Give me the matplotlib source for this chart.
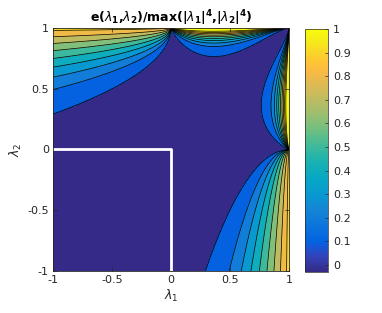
import numpy as np
import matplotlib
matplotlib.use('Agg')
import matplotlib.pyplot as plt
from matplotlib.colors import LinearSegmentedColormap, Normalize
from matplotlib.cm import ScalarMappable

plt.rcParams['font.family'] = 'DejaVu Sans'
plt.rcParams['mathtext.fontset'] = 'dejavusans'

# parula (MATLAB) anchor colours, position in [0,1]
PARULA = [
    (0.000, (0.2081, 0.1663, 0.5292)),
    (0.063, (0.1959, 0.2645, 0.7279)),
    (0.111, (0.0591, 0.3598, 0.8683)),
    (0.127, (0.0117, 0.3875, 0.8820)),
    (0.190, (0.0498, 0.4586, 0.8641)),
    (0.254, (0.0793, 0.5200, 0.8312)),
    (0.317, (0.0343, 0.5966, 0.8199)),
    (0.381, (0.0228, 0.6535, 0.7768)),
    (0.444, (0.0843, 0.6928, 0.7062)),
    (0.508, (0.2178, 0.7250, 0.6193)),
    (0.571, (0.3953, 0.7459, 0.5244)),
    (0.635, (0.5709, 0.7485, 0.4494)),
    (0.698, (0.7184, 0.7411, 0.3905)),
    (0.762, (0.8507, 0.7299, 0.3360)),
    (0.825, (0.9739, 0.7314, 0.2666)),
    (0.857, (0.9990, 0.7653, 0.2164)),
    (0.889, (0.9880, 0.8066, 0.1794)),
    (0.952, (0.9598, 0.9218, 0.0948)),
    (1.000, (0.9763, 0.9831, 0.0538)),
]
parula = LinearSegmentedColormap.from_list('parula', PARULA)

# colour range and contour levels
zmin, zmax = -0.03, 1.0
levels = [-0.03, 0.0, 0.1, 0.2, 0.3, 0.4, 0.5, 0.6, 0.7, 0.8, 0.9, 1.0]
line_levels = [0.0, 0.1, 0.2, 0.3, 0.4, 0.5, 0.6, 0.7, 0.8, 0.9]
ticks = [-1, -0.5, 0, 0.5, 1]
tick_labels = ['-1', '-0.5', '0', '0.5', '1']
cbar_ticks = [0, 0.1, 0.2, 0.3, 0.4, 0.5, 0.6, 0.7, 0.8, 0.9, 1.0]
cbar_labels = ['0', '0.1', '0.2', '0.3', '0.4', '0.5', '0.6', '0.7', '0.8', '0.9', '1']

# shape of the lobes (fan from (0,1) into lambda1<0) and lenses (0<lambda1<1)
lobe_width = 0.71
lobe_amp, lobe_pow = 0.84, 1.7
lens_amp, lens_pow = 1.2, 2.4
lens_a, lens_b, lens_c = 0.8, 1.4, 1.0


def lobe(x, y):
    with np.errstate(divide='ignore', invalid='ignore'):
        w = (1 - y) / (lobe_width * np.sqrt(np.clip(-x, 1e-12, None)))
    val = lobe_amp * np.clip(1 - w, 0, None) ** lobe_pow
    return np.where((x < 0) & (w < 1), val, zmin)


def lens(x, y):
    d = lens_c * np.clip(x, 0, None) ** lens_a * np.clip(1 - x, 0, None) ** lens_b
    with np.errstate(divide='ignore', invalid='ignore'):
        w = (1 - y) / np.maximum(d, 1e-12)
    val = lens_amp * np.clip(1 - w, 0, None) ** lens_pow
    return np.where((x > 0) & (x < 1) & (w < 1), val, zmin)


lam = np.linspace(-1, 1, 801)
L1, L2 = np.meshgrid(lam, lam)
Z = np.maximum.reduce([lobe(L1, L2), lobe(L2, L1), lens(L1, L2), lens(L2, L1)])
Z = np.clip(Z, zmin, zmax)

norm = Normalize(zmin, zmax)
band_colors = [parula(0.0)] + [parula(norm(l)) for l in levels[2:]]

fig = plt.figure(figsize=(3.82, 3.13), dpi=100)
ax = fig.add_axes([0.1387, 0.1342, 0.6178, 0.7764])
ax.contourf(L1, L2, Z, levels=levels, colors=band_colors)
ax.contour(L1, L2, Z, levels=line_levels, colors='k', linewidths=0.5)
ax.plot([-1, 0, 0], [0, 0, -1], color='white', linewidth=2)

ax.set_xlim(-1, 1)
ax.set_ylim(-1, 1)
ax.set_xticks(ticks)
ax.set_xticklabels(tick_labels)
ax.set_yticks(ticks)
ax.set_yticklabels(tick_labels)
axcol = (0.15, 0.15, 0.15)
ax.tick_params(direction='in', length=3, width=0.5, labelsize=8, colors=axcol,
               top=True, right=True, pad=3)
for s in ax.spines.values():
    s.set_color(axcol)
    s.set_linewidth(0.6)
ax.set_xlabel(r'$\lambda_1$', fontsize=9, color=axcol, labelpad=2)
ax.set_ylabel(r'$\lambda_2$', fontsize=9, color=axcol, labelpad=2)
ax.set_title(r'e($\lambda_{\mathbf{1}}$,$\lambda_{\mathbf{2}}$)/max(|$\lambda_{\mathbf{1}}$|$^{\mathbf{4}}$,|$\lambda_{\mathbf{2}}$|$^{\mathbf{4}}$)',
             fontsize=9, fontweight='bold', pad=4)

cax = fig.add_axes([0.7984, 0.131, 0.0602, 0.776])
sm = ScalarMappable(norm=norm, cmap=parula)
cb = fig.colorbar(sm, cax=cax, ticks=cbar_ticks)
cb.ax.set_yticklabels(cbar_labels)
cb.ax.tick_params(direction='in', length=2, width=0.5, labelsize=8, colors=axcol)
cb.outline.set_edgecolor(axcol)
cb.outline.set_linewidth(0.5)

fig.savefig('out.png', dpi=100)
